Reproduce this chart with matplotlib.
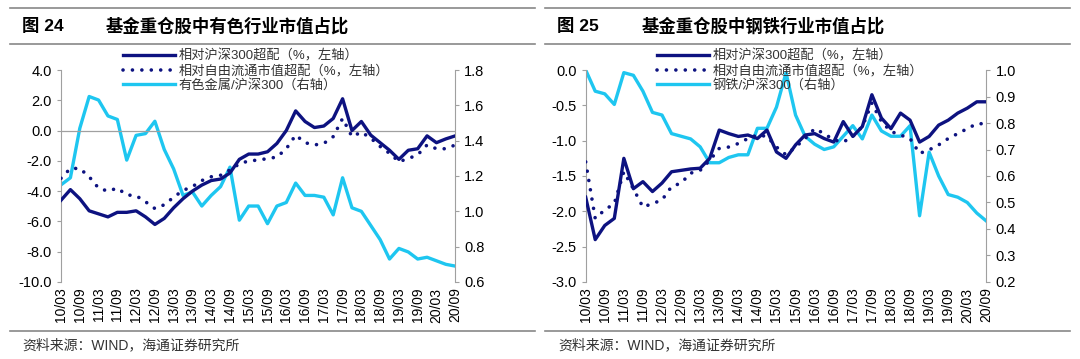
import matplotlib.pyplot as plt
from matplotlib.lines import Line2D

plt.rcParams["font.family"] = ["Liberation Sans", "Noto Sans CJK SC"]

# quarterly points 10/03 .. 20/09
tick_labels = [f"{y:02d}/{m}" for y in range(10, 21) for m in ("03", "09")]

# Figure 24: non-ferrous metals
nf_hs300 = [-4.6, -3.9, -4.5, -5.3, -5.5, -5.7, -5.4, -5.4, -5.3, -5.7, -6.2,
            -5.8, -5.1, -4.5, -4.0, -3.6, -3.3, -3.2, -2.8, -1.9, -1.55, -1.55,
            -1.4, -0.85, 0.0, 1.3, 0.6, 0.2, 0.3, 0.8, 2.1, 0.0, 0.6, -0.3,
            -0.8, -1.3, -1.9, -1.3, -1.2, -0.35, -0.8, -0.55, -0.35]
nf_free = [-3.15, -2.5, -2.5, -3.05, -3.8, -4.0, -3.8, -4.25, -4.3, -4.7, -5.15,
           -4.9, -4.4, -3.95, -3.7, -3.3, -3.05, -2.95, -2.6, -2.2, -2.0, -1.95,
           -1.85, -1.75, -1.2, -0.3, -0.8, -0.95, -0.85, -0.4, 0.8, -0.4, -0.1,
           -0.5, -1.05, -1.5, -2.05, -1.85, -1.6, -0.95, -1.2, -1.2, -0.95]
nf_ratio = [1.15, 1.19, 1.47, 1.65, 1.63, 1.54, 1.52, 1.29, 1.43, 1.44, 1.51,
            1.35, 1.24, 1.09, 1.11, 1.03, 1.09, 1.14, 1.25, 0.95, 1.03, 1.03,
            0.93, 1.03, 1.05, 1.16, 1.09, 1.09, 1.08, 0.98, 1.19, 1.02, 1.0,
            0.92, 0.84, 0.73, 0.79, 0.77, 0.73, 0.74, 0.72, 0.70, 0.69]

# Figure 25: steel
st_hs300 = [-1.8, -2.4, -2.2, -2.1, -1.25, -1.68, -1.58, -1.72, -1.6, -1.44,
            -1.42, -1.4, -1.39, -1.25, -0.85, -0.9, -0.94, -0.92, -0.97, -0.85,
            -1.16, -1.25, -1.06, -0.92, -0.9, -0.97, -1.02, -0.73, -0.94, -0.8,
            -0.35, -0.68, -0.83, -0.61, -0.71, -1.02, -0.94, -0.78, -0.71,
            -0.61, -0.54, -0.45, -0.45]
st_free = [-1.3, -2.1, -1.98, -1.89, -1.44, -1.68, -1.94, -1.89, -1.84, -1.65,
           -1.6, -1.46, -1.42, -1.28, -1.11, -1.09, -1.04, -0.97, -0.92, -0.94,
           -1.09, -1.2, -1.09, -0.97, -0.83, -0.9, -0.99, -1.02, -0.94, -0.8,
           -0.47, -0.73, -0.87, -0.92, -0.97, -1.18, -1.13, -1.06, -0.97, -0.9,
           -0.83, -0.76, -0.76]
st_ratio = [1.0, 0.92, 0.91, 0.87, 0.99, 0.98, 0.92, 0.84, 0.83, 0.76, 0.75,
            0.74, 0.71, 0.65, 0.65, 0.67, 0.68, 0.68, 0.78, 0.78, 0.86, 0.99,
            0.83, 0.75, 0.72, 0.70, 0.71, 0.75, 0.79, 0.74, 0.83, 0.77, 0.75,
            0.75, 0.79, 0.45, 0.69, 0.60, 0.53, 0.52, 0.50, 0.46, 0.43]

NAVY = "#0d1280"
CYAN = "#1ec6f0"
GRAY = "#a0a0a0"
TXT = "#333333"
DOTS = (0, (0.01, 2.6))

fig = plt.figure(figsize=(10.8, 3.59), dpi=100)


def panel(rect, s1, s2, s3, ratio_label, ylim, yticks, ylim2, yticks2,
          zero_line, leg_x):
    ax = fig.add_axes(rect)
    x = list(range(len(s1)))
    ax.plot(x, s1, color=NAVY, lw=2.4, solid_joinstyle="round", zorder=3)
    ax.plot(x, s2, color=NAVY, lw=2.6, linestyle=DOTS,
            dash_capstyle="round", zorder=3)
    ax2 = ax.twinx()
    ax2.plot(x, s3, color=CYAN, lw=2.4, solid_joinstyle="round", zorder=2)
    ax.set_zorder(ax2.get_zorder() + 1)
    ax.patch.set_visible(False)

    ax.set_xlim(0, len(s1) - 1)
    ax.set_ylim(*ylim)
    ax.set_yticks(yticks)
    ax.set_yticklabels([f"{v:.1f}" for v in yticks])
    ax2.set_ylim(*ylim2)
    ax2.set_yticks(yticks2)
    ax2.set_yticklabels([f"{v:.1f}" for v in yticks2])
    ax.set_xticks(range(0, len(s1), 2))
    ax.set_xticklabels(tick_labels, rotation=90)

    for a in (ax, ax2):
        for side in ("top", "bottom"):
            a.spines[side].set_visible(False)
        a.tick_params(colors=GRAY, labelcolor="black", labelsize=10.5,
                      length=3, width=0.8)
    ax.spines["left"].set_color(GRAY)
    ax.spines["right"].set_visible(False)
    ax2.spines["left"].set_visible(False)
    ax2.spines["right"].set_color(GRAY)
    ax.tick_params(axis="x", length=0, labelsize=10, pad=4)
    if zero_line:
        ax.axhline(0, color=GRAY, lw=0.9, zorder=1)

    handles = [
        Line2D([], [], color=NAVY, lw=2.4),
        Line2D([], [], color=NAVY, lw=2.6, linestyle=DOTS,
               dash_capstyle="round"),
        Line2D([], [], color=CYAN, lw=2.4),
    ]
    labels = ["相对沪深300超配（%，左轴）", "相对自由流通市值超配（%，左轴）",
              ratio_label]
    leg = ax.legend(handles, labels, loc="upper left",
                    bbox_to_anchor=(leg_x, 1.12), frameon=False,
                    fontsize=9.5, handlelength=3.9, handletextpad=0.3,
                    labelspacing=0.12, borderaxespad=0)
    for t in leg.get_texts():
        t.set_color(TXT)
    return ax


panel([0.0565, 0.2145, 0.365, 0.5905], nf_hs300, nf_free, nf_ratio,
      "有色金属/沪深300（右轴）", (-10, 4), [4, 2, 0, -2, -4, -6, -8, -10],
      (0.6, 1.8), [1.8, 1.6, 1.4, 1.2, 1.0, 0.8, 0.6], True, 0.145)
panel([0.5423, 0.2145, 0.371, 0.5905], st_hs300, st_free, st_ratio,
      "钢铁/沪深300（右轴）", (-3, 0), [0, -0.5, -1, -1.5, -2, -2.5, -3],
      (0.2, 1.0), [1.0, 0.9, 0.8, 0.7, 0.6, 0.5, 0.4, 0.3, 0.2], False, 0.165)

# header / footer decorations
for x0, x1, num, title in [(0.009, 0.495, "图 24", "基金重仓股中有色行业市值占比"),
                           (0.505, 0.991, "图 25", "基金重仓股中钢铁行业市值占比")]:
    fig.add_artist(Line2D([x0, x1], [1 - 8 / 359] * 2, color="#888888", lw=1.2))
    fig.add_artist(Line2D([x0, x1], [1 - 44 / 359] * 2, color="#888888", lw=1.2))
    fig.add_artist(Line2D([x0, x1], [1 - 331 / 359] * 2, color="#888888", lw=1.2))
    fig.text(x0 + 0.011, 1 - 26 / 359, num, fontsize=12.5, fontweight="bold",
             va="center")
    fig.text(x0 + 0.089, 1 - 26 / 359, title, fontsize=12.5, fontweight="bold",
             va="center")
    fig.text(x0 + 0.012, 1 - 345 / 359, "资料来源：WIND，海通证券研究所",
             fontsize=10, color=TXT, va="center")

fig.savefig("out.png", dpi=100)
